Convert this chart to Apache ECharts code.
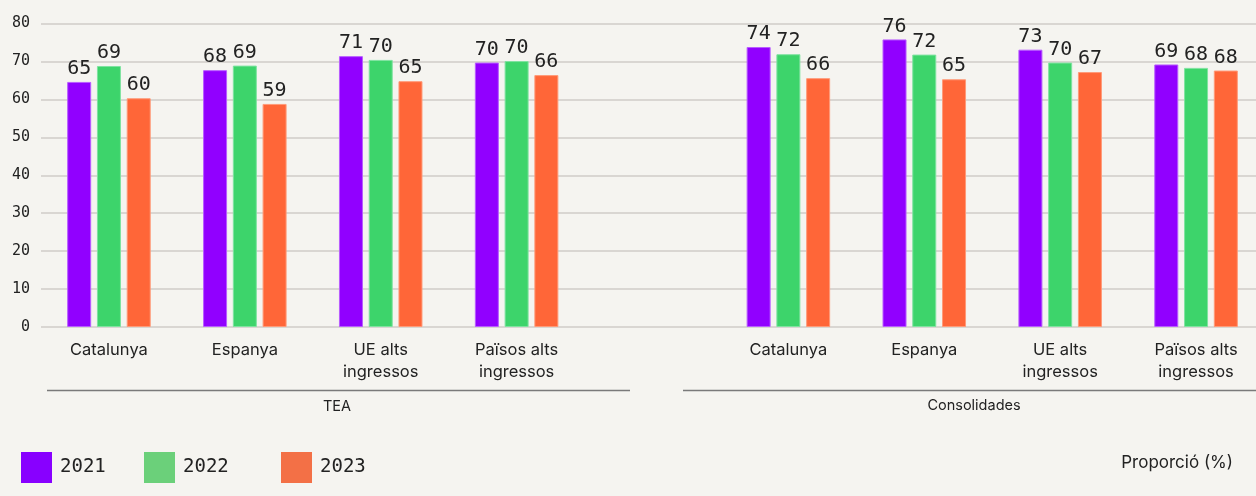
<!DOCTYPE html>
<html>
<head>
<meta charset="utf-8">
<style>
html,body{margin:0;padding:0;background:#f5f4f0;}
#chart{width:1256px;height:496px;}
</style>
<script src="https://cdn.jsdelivr.net/npm/echarts@6/dist/echarts.min.js"></script>
</head>
<body>
<div id="chart"></div>
<script>
const categories = ['Catalunya','Espanya','UE alts\ningressos','Països alts\ningressos','','Catalunya','Espanya','UE alts\ningressos','Països alts\ningressos'];
const seriesNames = ['2021','2022','2023'];
const v2021 = [64.6, 67.7, 71.4, 69.7, null, 73.8, 75.8, 73.1, 69.2];
const v2022 = [68.8, 68.9, 70.4, 70.1, null, 71.9, 71.8, 69.7, 68.3];
const v2023 = [60.3, 58.8, 64.8, 66.4, null, 65.6, 65.3, 67.2, 67.6];
const groupLabels = ['TEA','Consolidades'];
const yMax = 80, yInterval = 10;
const unitLabel = 'Proporció (%)';

const colors = ['#9100ff','#3dd46b','#ff6638'];
const borders = ['#b85cff','#7fe3a0','#ff9a78'];
const legendColors = ['#8800ff','#6bd07a','#f37046'];
const monoFont = '"DejaVu Sans Mono", monospace';
const sansFont = 'Inter, "Noto Sans", sans-serif';

const chart = echarts.init(document.getElementById('chart'));
const allData = [v2021, v2022, v2023];

const series = allData.map((d, i) => ({
  name: seriesNames[i],
  type: 'bar',
  data: d,
  barWidth: 24,
  barGap: '24%',
  itemStyle: {color: colors[i], borderColor: borders[i], borderWidth: 1},
  label: {
    show: true, position: 'top', distance: 3,
    fontFamily: monoFont, fontSize: 20, color: '#222',
    formatter: p => p.value == null ? '' : Math.round(p.value)
  }
}));

const graphics = [
  {type:'line', shape:{x1:47,y1:390.5,x2:630,y2:390.5}, style:{stroke:'#7a7a7a', lineWidth:1.5}},
  {type:'line', shape:{x1:683,y1:390.5,x2:1256,y2:390.5}, style:{stroke:'#7a7a7a', lineWidth:1.5}},
  {type:'text', x:337, y:407, style:{text:groupLabels[0], font:'14.5px ' + sansFont, fill:'#222', textAlign:'center', textVerticalAlign:'middle'}},
  {type:'text', x:974, y:406, style:{text:groupLabels[1], font:'14.5px ' + sansFont, fill:'#222', textAlign:'center', textVerticalAlign:'middle'}},
  {type:'text', x:1233, y:463, style:{text:unitLabel, font:'17px ' + sansFont, fill:'#222', textAlign:'right', textVerticalAlign:'middle'}}
];
const legendX = [21, 144, 281];
seriesNames.forEach((n, i) => {
  graphics.push({type:'rect', shape:{x:legendX[i], y:452, width:31, height:31}, style:{fill:legendColors[i]}});
  graphics.push({type:'text', x:legendX[i]+39, y:467.5, style:{text:n, font:'19px ' + monoFont, fill:'#222', textVerticalAlign:'middle'}});
});

chart.setOption({
  backgroundColor: '#f5f4f0',
  animation: false,
  grid: {left: 41, width: 1223, top: 23.5, bottom: 169, containLabel: false, outerBoundsMode: 'none'},
  xAxis: {
    type: 'category', data: categories,
    axisLine: {show: false}, axisTick: {show: false},
    axisLabel: {interval: 0, margin: 12, fontFamily: sansFont, fontSize: 16.5, color: '#222', lineHeight: 22}
  },
  yAxis: {
    type: 'value', min: 0, max: yMax, interval: yInterval,
    axisLine: {show: false}, axisTick: {show: false},
    axisLabel: {margin: 11, fontFamily: monoFont, fontSize: 15, color: '#222', align: 'right'},
    splitLine: {lineStyle: {color: '#cfcdc8', width: 1.5}}
  },
  series: series,
  graphic: graphics
});
</script>
</body>
</html>
